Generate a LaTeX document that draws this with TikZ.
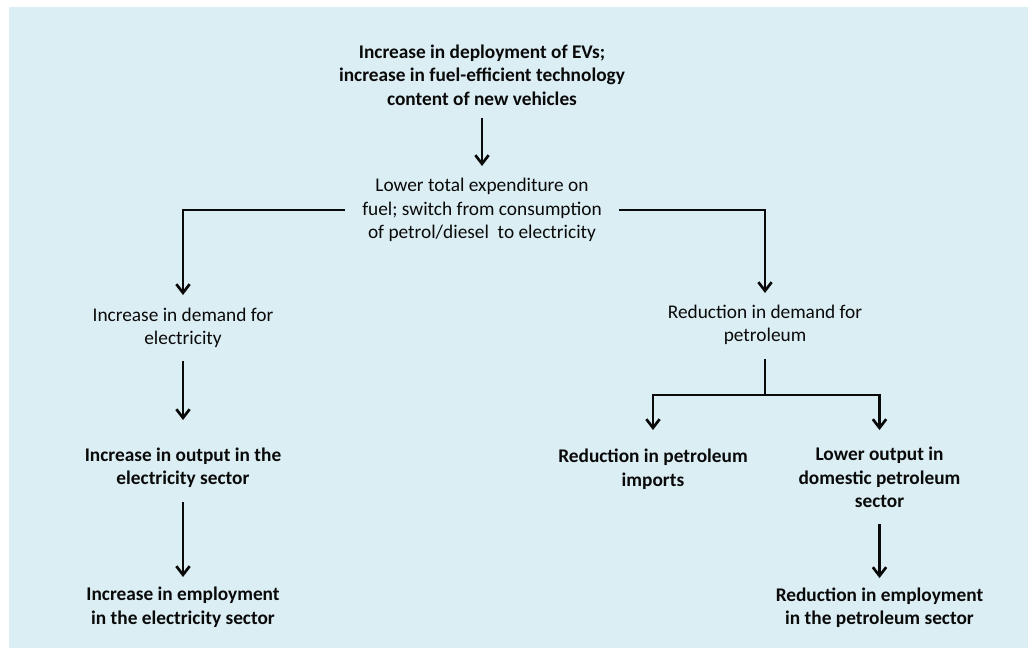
\documentclass[tikz,border=0pt]{standalone}
\usepackage{fontspec}
\setmainfont{Carlito}
\usetikzlibrary{arrows.meta}

\definecolor{paleAqua}{HTML}{DBEEF3}
\definecolor{inkBlack}{HTML}{0A0A0A}

\tikzset{
	effectText/.style = {align = center, inner sep = 0pt, text = inkBlack, font = \fontsize{14.5}{17.6}\selectfont},
	effectBold/.style = {effectText, font = \fontsize{14.5}{17.6}\selectfont\bfseries},
	flowLine/.style = {draw = inkBlack, line width = 2pt},
	flowArrow/.style = {flowLine, -{Straight Barb[length = 6.5pt, width = 10pt, line width = 2pt]}}
}

\begin{document}
\begin{tikzpicture}[x = 0.75pt, y = -0.75pt]

	% page and pale blue panel
	\useasboundingbox (0, 0) rectangle (1028, 651);
	\fill[white] (0, 0) rectangle (1028, 651);
	\fill[paleAqua] (9, 7) rectangle (1028, 648);

	% top cause
	\node[effectBold] (deployEV) at (482, 75) {Increase in deployment of EVs;\\increase in fuel-efficient technology\\content of new vehicles};

	% spending shift
	\node[effectText] (fuelSpend) at (482, 210) {Lower total expenditure on\\fuel; switch from consumption\\of petrol/diesel\ \ to electricity};

	% electricity branch
	\node[effectText] (demandElec) at (183, 328) {Increase in demand for\\electricity};
	\node[effectBold] (outputElec) at (183, 467.5) {Increase in output in the\\electricity sector};
	\node[effectBold] (jobsElec) at (183, 607) {Increase in employment\\in the electricity sector};

	% petroleum branch
	\node[effectText] (demandPetrol) at (765, 325) {Reduction in demand for\\petroleum};
	\node[effectBold] (importsPetrol) at (653, 469) {Reduction in petroleum\\imports};
	\node[effectBold] (outputPetrol) at (879.5, 477.5) {Lower output in\\domestic petroleum\\sector};
	\node[effectBold] (jobsPetrol) at (879.5, 607.5) {Reduction in employment\\in the petroleum sector};

	% split point under petroleum demand
	\coordinate (petrolSplit) at (765, 395);

	% connectors, shortened from the node centres
	\draw[flowArrow, shorten <= 32pt, shorten >= 33pt] (deployEV.center) -- (fuelSpend.center);
	\draw[flowArrow, shorten <= 102.75pt, shorten >= 24.75pt] (fuelSpend.center) -| (demandElec.center);
	\draw[flowArrow, shorten <= 102.75pt, shorten >= 24pt] (fuelSpend.center) -| (demandPetrol.center);
	\draw[flowArrow, shorten <= 24.75pt, shorten >= 35.6pt] (demandElec.center) -- (outputElec.center);
	\draw[flowArrow, shorten <= 25.9pt, shorten >= 22.5pt] (outputElec.center) -- (jobsElec.center);
	\draw[flowLine, shorten <= 25.5pt] (demandPetrol.center) -- (petrolSplit);
	\draw[flowArrow, shorten >= 29.25pt] (petrolSplit) -| (importsPetrol.center);
	\draw[flowArrow, shorten >= 35.6pt] (petrolSplit) -| (outputPetrol.center);
	\draw[flowArrow, shorten <= 34.9pt, shorten >= 22.1pt] (outputPetrol.center) -- (jobsPetrol.center);

\end{tikzpicture}
\end{document}
